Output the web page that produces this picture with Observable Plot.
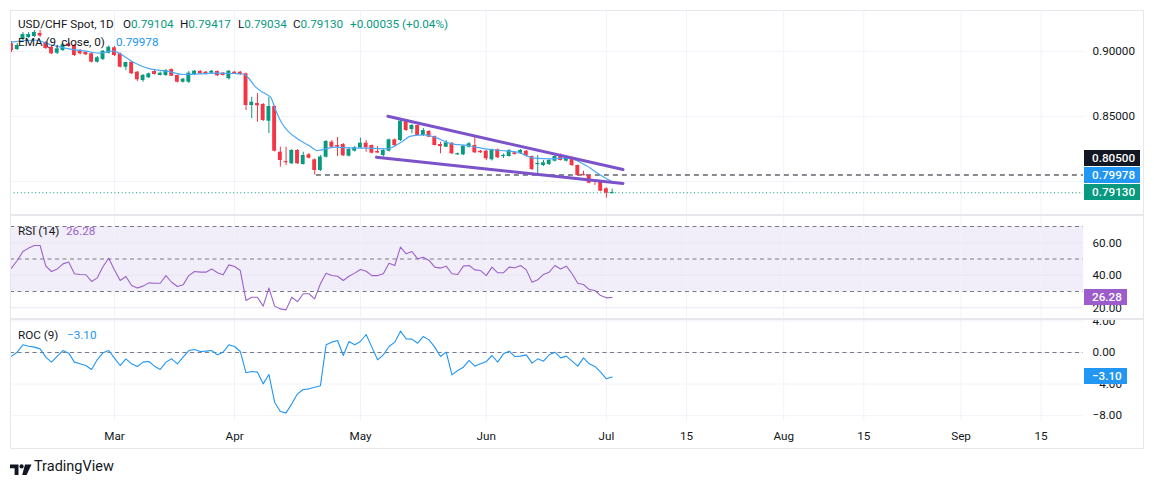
<!DOCTYPE html>
<html><head><meta charset="utf-8">
<script src="https://cdn.jsdelivr.net/npm/d3@7"></script>
<script src="https://cdn.jsdelivr.net/npm/@observablehq/plot@0.6"></script>
<style>
body{margin:0;background:#fff;font-family:Roboto,"Noto Sans",sans-serif;}
#root{position:relative;width:1154px;height:485px;overflow:hidden;background:#fff}
#root svg{position:absolute;left:0}
.t{position:absolute;white-space:nowrap;font-size:11.7px;line-height:14px;color:#131722}
.box{position:absolute;left:1084px;height:16px;line-height:16px;color:#fff;font-size:11.7px;font-weight:500;padding-left:8px;box-sizing:border-box;white-space:nowrap}
.sep{position:absolute;left:10px;width:1134px;height:2px;background:#e6e8ee}
</style></head><body><div id="root"></div>
<script>
// ---- data ----
const barStart = "2025-02-05", barEnd = "2025-07-02";
const open = [
0.90592,0.90154,0.90923,0.91077,0.91154,0.91385,0.90692,0.90331,0.89869,0.90077,
0.90592,0.90462,0.90023,0.89946,0.89823,0.89177,0.89385,0.89869,0.90285,0.89823,
0.88792,0.89177,0.88408,0.87769,0.87977,0.88462,0.88154,0.88154,0.88615,0.88154,
0.87638,0.87638,0.88231,0.88462,0.88408,0.88331,0.88462,0.88331,0.87900,0.88408,
0.88408,0.88285,0.85846,0.86000,0.85923,0.84638,0.85769,0.82254,0.81515,0.81362,
0.82385,0.81308,0.82054,0.81669,0.80846,0.81869,0.83023,0.82769,0.82846,0.81946,
0.82331,0.82577,0.82946,0.82769,0.82308,0.82000,0.82331,0.83208,0.83154,0.84638,
0.84000,0.84308,0.83538,0.83846,0.83462,0.82846,0.82638,0.82946,0.82054,0.82054,
0.82638,0.82769,0.82331,0.82331,0.81669,0.82438,0.81923,0.81923,0.82208,0.82131,
0.82331,0.81923,0.81308,0.81231,0.81308,0.81562,0.81923,0.81562,0.81823,0.81231,
0.80538,0.80462,0.80077,0.79946,0.79438,0.79104];
const high = [
0.90769,0.90615,0.91462,0.91462,0.91615,0.91615,0.90769,0.90462,0.90308,0.90615,
0.90692,0.90538,0.90154,0.90000,0.89923,0.89615,0.90077,0.90423,0.90385,0.89885,
0.89177,0.89231,0.88462,0.88231,0.88346,0.88538,0.88423,0.88615,0.88654,0.88192,
0.87923,0.88462,0.88538,0.88538,0.88462,0.88538,0.88500,0.88385,0.88538,0.88462,
0.88462,0.88346,0.86485,0.86769,0.86000,0.86485,0.85846,0.82638,0.82638,0.82462,
0.82462,0.82254,0.82154,0.81731,0.82000,0.83154,0.83154,0.83385,0.82923,0.82577,
0.82692,0.83331,0.83154,0.82808,0.82692,0.82462,0.83269,0.83269,0.84746,0.84692,
0.84385,0.84346,0.84077,0.83923,0.83500,0.83023,0.83154,0.83000,0.82192,0.82769,
0.83000,0.83538,0.82385,0.82385,0.82500,0.82500,0.82115,0.82462,0.82269,0.82462,
0.82385,0.81962,0.82000,0.81615,0.81692,0.82000,0.82115,0.81923,0.81885,0.81269,
0.80792,0.80500,0.80154,0.80000,0.79515,0.79417];
const low = [
0.89923,0.90077,0.90846,0.91000,0.91077,0.91077,0.90154,0.89769,0.89769,0.90000,
0.90308,0.89615,0.89731,0.89692,0.89115,0.89115,0.89308,0.89808,0.89615,0.88731,
0.88538,0.88231,0.87692,0.87638,0.87923,0.88192,0.88115,0.88077,0.88077,0.87577,
0.87577,0.87538,0.88154,0.88231,0.88192,0.88269,0.88077,0.88115,0.87808,0.88231,
0.88154,0.85462,0.84846,0.84562,0.84615,0.83692,0.82269,0.81100,0.81231,0.81308,
0.81308,0.81269,0.81731,0.80500,0.80769,0.81808,0.82577,0.81923,0.81923,0.81885,
0.82269,0.82538,0.82254,0.82115,0.82154,0.81869,0.82269,0.82692,0.83077,0.83846,
0.83669,0.83500,0.83462,0.83385,0.82731,0.82131,0.82615,0.82077,0.82000,0.82000,
0.82577,0.82154,0.82154,0.81615,0.81577,0.81769,0.81769,0.81885,0.82023,0.82077,
0.81885,0.80846,0.80538,0.81154,0.81231,0.81500,0.81577,0.81500,0.81154,0.80423,
0.80423,0.79823,0.79692,0.79208,0.78715,0.79034];
const close = [
0.90077,0.90462,0.91308,0.91308,0.91462,0.91192,0.90231,0.89823,0.90208,0.90515,
0.90385,0.89692,0.89823,0.89746,0.89177,0.89515,0.90023,0.90331,0.89692,0.88792,
0.89154,0.88285,0.87823,0.88154,0.88285,0.88231,0.88331,0.88538,0.88100,0.87638,
0.87869,0.88331,0.88485,0.88285,0.88231,0.88485,0.88131,0.88154,0.88485,0.88285,
0.88231,0.85846,0.86100,0.85823,0.84692,0.85769,0.82331,0.81615,0.81462,0.82385,
0.81362,0.82000,0.81792,0.80846,0.81885,0.83077,0.82638,0.82654,0.81977,0.82462,
0.82592,0.82946,0.82592,0.82177,0.82192,0.82385,0.83208,0.82769,0.84638,0.83923,
0.84308,0.83538,0.83923,0.83408,0.82769,0.82692,0.82977,0.82131,0.82131,0.82715,
0.82900,0.82208,0.82208,0.81746,0.82438,0.81823,0.82000,0.82385,0.82077,0.82385,
0.81946,0.80923,0.81385,0.81438,0.81615,0.81923,0.81615,0.81823,0.81231,0.80462,
0.80462,0.79869,0.79946,0.79254,0.79100,0.79130];
// EMA(9) read at these bar positions
const emaIdx = [0,4,7,10,13,15.5,17.8,19,21.3,24.2,27.2,30,33,36,39,40.6,41.5,42.7,44.4,45.3,46.2,47.3,48.5,50,52,53.5,56.4,59.2,62.2,65.7,68.1,69.8,72.2,74,76.9,79.8,82.7,85.6,88.5,91.4,94.3,97.2,100.2,103.1,105];
const emaVal = [0.90715,0.90885,0.905,0.90208,0.90023,0.89869,0.90038,0.89823,0.89177,0.88669,0.88485,0.88231,0.88285,0.88331,0.88308,0.88269,0.87923,0.87254,0.86746,0.86485,0.85462,0.84462,0.83792,0.83285,0.82769,0.82385,0.82638,0.82592,0.82562,0.82515,0.83023,0.83485,0.83592,0.83408,0.829,0.82769,0.82515,0.82385,0.82254,0.81792,0.81746,0.81823,0.81285,0.80462,0.79978];
const rsi = [
44.4,49.1,54.6,56.7,58.3,58.3,45.6,42.3,43.9,47.0,
48.1,40.9,40.5,40.3,36.2,38.4,45.4,50.5,43.3,36.8,
39.2,33.7,32.1,33.3,35.3,35.1,35.1,39.8,35.7,33.1,
34.1,39.8,42.3,41.9,41.9,43.9,41.5,40.3,46.4,45.4,
42.9,24.5,26.5,26.5,21.0,32.1,21.0,19.3,18.7,26.5,
23.8,28.6,28.6,25.5,34.7,41.3,39.8,39.4,36.8,39.4,
41.3,43.5,42.5,39.8,39.8,40.9,47.4,46.0,57.3,53.2,
54.6,50.1,51.1,49.1,45.0,44.4,45.6,40.9,40.5,45.6,
46.0,43.3,42.9,39.8,45.0,41.5,41.5,45.0,44.6,46.0,
43.3,35.7,37.2,40.5,41.9,46.0,43.9,45.6,40.9,35.1,
34.3,31.2,30.6,27.5,26.1,26.28];
const roc = [
-0.46,0.04,0.97,0.80,0.68,0.46,-0.59,-1.22,-0.46,0.25,
-0.08,-1.22,-1.43,-1.65,-2.15,-0.89,-0.04,0.25,-0.72,-1.65,
-0.80,-1.43,-1.77,-1.22,-1.14,-1.73,-2.15,-1.22,-0.80,-1.43,
-0.59,0.25,0.38,0.13,0.17,0.25,-0.30,0.04,0.97,0.76,
0.13,-2.57,-2.41,-2.49,-3.97,-2.78,-6.29,-7.47,-7.64,-6.50,
-5.23,-4.68,-4.60,-4.39,-4.22,0.97,1.31,1.52,-0.38,1.39,
0.97,1.39,2.28,0.68,-0.93,-0.30,0.76,1.31,2.70,1.73,
1.69,1.18,2.03,1.60,0.68,-0.51,0.04,-2.83,-2.28,-1.86,
-1.01,-1.73,-1.43,-1.14,-0.38,-1.22,-0.17,0.17,-0.51,-0.46,
-0.30,-1.35,-0.80,-1.10,-0.30,0.04,-0.68,-0.46,-1.10,-1.73,
-0.68,-1.43,-1.77,-2.49,-3.33,-3.10];
const tickDates = ["2025-03-03","2025-04-01","2025-05-01","2025-06-02","2025-07-01","2025-07-15","2025-08-01","2025-08-15","2025-09-01","2025-09-15"];
const tickLabels = ["Mar","Apr","May","Jun","Jul","15","Aug","15","Sep","15"];
const priceGrid = [0.80,0.85,0.90];
const priceTicks = [0.85,0.90];
const rsiGrid = [20,40,60];
const rsiLevels = [70,50,30];
const rocGrid = [4,0,-4,-8];
const trendX1 = [65.8,63.8], trendY1 = [0.8502,0.8187], trendX2 = [106.9,106.9], trendY2 = [0.8092,0.7985];
const supportLevel = 0.805, supportFrom = 53.3;
const lastPrice = 0.79130, lastEma = 0.79978, lastRsi = 26.28, lastRoc = -3.10;
const header = {sym:"USD/CHF Spot, 1D", o:"0.79104", h:"0.79417", l:"0.79034", c:"0.79130", chg:"+0.00035 (+0.04%)"};

// ---- derived ----
const GREEN="#089981", RED="#F23645", GRID="#f0f3fa";
const days = d3.utcDay.range(new Date(barStart), d3.utcDay.offset(new Date(barEnd),1)).filter(d=>d.getUTCDay()%6!==0);
const N = close.length;
const bars = close.map((c,i)=>{
  const o=open[i]; let top=Math.max(o,c), bot=Math.min(o,c);
  if (top-bot<0.0009){const m=(o+c)/2; top=m+0.00045; bot=m-0.00045;}
  return {i, o, h:high[i], l:low[i], c, top, bot, col: c>=o?GREEN:RED};
});
const lastDate = days[N-1];
const tickIdx = tickDates.map(s=>{const d=new Date(s); const k=days.findIndex(x=>+x===+d); return k>=0?k:(N-1)+d3.utcDay.count(lastDate,d);});
const tickMap = new Map(tickIdx.map((t,k)=>[t,tickLabels[k]]));
const emaPts = emaIdx.map((x,k)=>({x, v:emaVal[k]}));
const rsiPts = rsi.map((v,i)=>({i,v}));
const rocPts = roc.map((v,i)=>({i,v}));
const trends = trendX1.map((x,k)=>({x1:x,y1:trendY1[k],x2:trendX2[k],y2:trendY2[k]}));
const XD = [-0.175, 187.41];
const style = {fontFamily:"Roboto, 'Noto Sans', sans-serif", fontSize:"11.7px", color:"#131722", background:"none", overflow:"hidden"};
const common = {width:1154, marginLeft:10, marginRight:71, marginTop:0, style, x:{domain:XD, axis:null, label:null}};

const root = document.getElementById("root");

const main = Plot.plot({...common, height:205, marginBottom:0,
  y:{domain:[0.77385,0.93154], axis:null, label:null},
  marks:[
    Plot.ruleX(tickIdx,{stroke:GRID}),
    Plot.ruleY(priceGrid,{stroke:GRID}),
    Plot.ruleY([lastPrice],{stroke:GREEN, strokeDasharray:"1,2.6", strokeWidth:1.1}),
    Plot.ruleY([{y:supportLevel,x1:supportFrom,x2:XD[1]}],{y:"y",x1:"x1",x2:"x2",stroke:"#131722",strokeDasharray:"5,4",strokeWidth:1.2}),
    Plot.ruleX(bars,{x:"i",y1:"l",y2:"h",stroke:"col",strokeWidth:1,clip:true}),
    Plot.rect(bars,{x1:d=>d.i-0.34,x2:d=>d.i+0.34,y1:"bot",y2:"top",fill:"col",clip:true}),
    Plot.line(emaPts,{x:"x",y:"v",stroke:"#4aa8f5",strokeWidth:1.2,curve:"monotone-x"}),
    Plot.link(trends,{x1:"x1",y1:"y1",x2:"x2",y2:"y2",stroke:"#7b52c9",strokeWidth:3,strokeLinecap:"round"}),
    Plot.axisY(priceTicks,{anchor:"right",label:null,tickSize:0,tickPadding:9,tickFormat:d=>d.toFixed(5)})
  ]});
main.style.top="10px"; root.appendChild(main);

const rsiPlot = Plot.plot({...common, height:104, marginBottom:0,
  y:{domain:[12.77,76.77], axis:null, label:null},
  marks:[
    Plot.rect([{x1:XD[0],x2:XD[1],y1:30,y2:70}],{x1:"x1",x2:"x2",y1:"y1",y2:"y2",fill:"#7e57c2",fillOpacity:0.1}),
    Plot.ruleX(tickIdx,{stroke:GRID}),
    Plot.ruleY(rsiGrid,{stroke:"#e9e6f2"}),
    Plot.ruleY(rsiLevels,{stroke:"#787b86",strokeDasharray:"4,3.5"}),
    Plot.line(rsiPts,{x:"i",y:"v",stroke:"#9a62cc",strokeWidth:1.1}),
    Plot.axisY(rsiGrid,{anchor:"right",label:null,tickSize:0,tickPadding:9,tickFormat:d=>d.toFixed(2)})
  ]});
rsiPlot.style.top="215px"; root.appendChild(rsiPlot);

const rocPlot = Plot.plot({...common, height:130, marginBottom:28,
  y:{domain:[-8.734,4.177], axis:null, label:null},
  marks:[
    Plot.ruleX(tickIdx,{stroke:GRID}),
    Plot.ruleY(rocGrid,{stroke:GRID}),
    Plot.ruleY([0],{stroke:"#787b86",strokeDasharray:"4,3.5"}),
    Plot.line(rocPts,{x:"i",y:"v",stroke:"#2196F3",strokeWidth:1.1}),
    Plot.axisY(rocGrid,{anchor:"right",label:null,tickSize:0,tickPadding:9,tickFormat:d=>d.toFixed(2).replace("-","\u2212")}),
    Plot.axisX(tickIdx,{label:null,tickSize:0,tickPadding:10,tickFormat:d=>tickMap.get(d)})
  ]});
rocPlot.style.top="319px"; root.appendChild(rocPlot);

// ---- html overlays ----
function add(html, cls, left, cy, extra){const d=document.createElement("div"); d.className=cls; d.innerHTML=html; d.style.left=left+"px"; d.style.top=(cy-7)+"px"; if(extra) Object.assign(d.style,extra); root.appendChild(d); return d;}
const G=`style="color:${GREEN}"`;
add(header.sym,"t",18,24);
add(`O<span ${G}>${header.o}</span>`,"t",123,24);
add(`H<span ${G}>${header.h}</span>`,"t",180,24);
add(`L<span ${G}>${header.l}</span>`,"t",238,24);
add(`C<span ${G}>${header.c}</span>`,"t",293,24);
add(`<span ${G}>${header.chg}</span>`,"t",350,24);
add("EMA (9, close, 0)","t",18,42);
add(`<span style="color:#2196F3">${lastEma.toFixed(5)}</span>`,"t",116,42);
add("RSI (14)","t",18,231);
add(`<span style="color:#9a62cc">${lastRsi.toFixed(2)}</span>`,"t",66,231);
add("ROC (9)","t",18,335);
add(`<span style="color:#2196F3">${lastRoc.toFixed(2).replace("-","\u2212")}</span>`,"t",67,335);

// separators and frame
[214,318].forEach(y=>{const s=document.createElement("div");s.className="sep";s.style.top=y+"px";root.appendChild(s);});
const fr=document.createElement("div");
Object.assign(fr.style,{position:"absolute",left:"10px",top:"10px",width:"1134px",height:"439px",border:"1.5px solid #e6e8ee",boxSizing:"border-box",pointerEvents:"none"});
root.appendChild(fr);

// price-axis boxes, positioned through the plots' scales, stacked to avoid overlap
function box(text,bg,cy,w){const d=document.createElement("div");d.className="box";d.textContent=text;Object.assign(d.style,{background:bg,top:(cy-8)+"px",width:w+"px"});root.appendChild(d);}
const my = main.scale("y");
const mainBoxes = [{v:lastPrice,bg:GREEN},{v:lastEma,bg:"#2196F3"},{v:supportLevel,bg:"#131722"}];
let prev = Infinity;
mainBoxes.forEach(b=>{let cy=10+my.apply(b.v); cy=Math.min(cy,prev-17.3); prev=cy; box(b.v.toFixed(5),b.bg,cy,56);});
box(lastRsi.toFixed(2),"#9c5ccb",215+rsiPlot.scale("y").apply(lastRsi),43);
box(lastRoc.toFixed(2).replace("-","\u2212"),"#2196F3",319+rocPlot.scale("y").apply(lastRoc),43);

// TradingView logo
const logo=document.createElement("div");
Object.assign(logo.style,{position:"absolute",left:"10px",top:"461px"});
logo.innerHTML=`<svg width="22" height="12" viewBox="0 0 22 12" style="position:static"><path d="M0 0.5H8.5V11H4.6V4.2H0Z" fill="#131722"/><circle cx="11.6" cy="2.4" r="2.1" fill="#131722"/><path d="M15 0.5H21.5L16.6 11H12.2Z" fill="#131722"/></svg>`;
root.appendChild(logo);
add("TradingView","t",34,467,{fontSize:"14.5px",lineHeight:"14px"});
</script></body></html>
